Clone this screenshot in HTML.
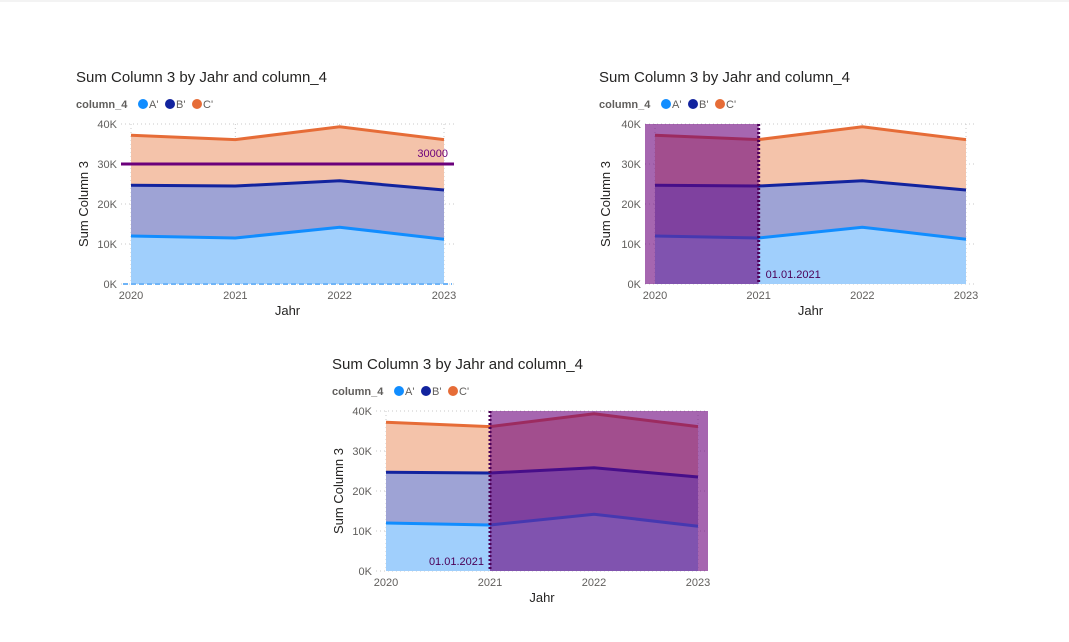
<!DOCTYPE html>
<html><head><meta charset="utf-8"><style>
html,body{margin:0;padding:0;background:#fff;}
svg{display:block;font-family:"Segoe UI","Liberation Sans","DejaVu Sans",sans-serif;}
</style></head><body>
<svg id="root" width="1069" height="642" viewBox="0 0 1069 642" xmlns="http://www.w3.org/2000/svg">
<rect x="0" y="0" width="1069" height="2" fill="#f3f3f3"/>
</svg>
<script>
const years = ["2020","2021","2022","2023"];
const seriesA = [12000, 11500, 14200, 11200];
const seriesB = [12700, 13000, 11600, 12300];
const seriesC = [12500, 11600, 13500, 12600];
const yTicks = [0, 10000, 20000, 30000, 40000];
const yTickLabels = ["0K","10K","20K","30K","40K"];
const refValue = 30000;
const refLabel = "30000";
const dateMarker = "01.01.2021";

const NS = "http://www.w3.org/2000/svg";
const root = document.getElementById('root');
function mk(tag, attrs, parent, text){
  const e = document.createElementNS(NS, tag);
  for (const k in attrs) e.setAttribute(k, attrs[k]);
  if (text !== undefined) e.textContent = text;
  (parent || root).appendChild(e);
  return e;
}
const colors = {A:{fill:"#a0cffc",line:"#118dff"},B:{fill:"#9ea3d5",line:"#12239e"},C:{fill:"#f4c3aa",line:"#e66c37"}};

function drawChart(cfg){
  const g = mk('g', {});
  
  
  const xs = i => cfg.x0 + (cfg.x1 - cfg.x0) * i / (years.length - 1);
  const ys = v => cfg.yb - (cfg.yb - cfg.yt) * v / 40000;
  const t = mk('text', {x:cfg.tx, y:cfg.ty, 'font-size':15, fill:'#252423'}, g, 'Sum Column 3 by Jahr and column_4');
  
  
  // legend
  const lg = mk('g', {}, g);
  
  
  mk('text', {x:cfg.tx, y:cfg.ty+26, 'font-size':11, 'font-weight':'bold', fill:'#605e5c'}, lg, 'column_4');
  const lx = cfg.tx + 62;
  [["A","A'"],["B","B'"],["C","C'"]].forEach((s, i) => {
    const ex = lx + i * 27;
    const e = mk('g', {}, lg);
    
    
    mk('circle', {cx:ex+5, cy:cfg.ty+22, r:5, fill:colors[s[0]].line}, e);
    mk('text', {x:ex+11, y:cfg.ty+26, 'font-size':11, fill:'#605e5c'}, e, s[1]);
  });
  // gridlines & y ticks
  yTicks.forEach((v, i) => {
    const y = ys(v);
    mk('line', {x1:cfg.gx, x2:cfg.x1+10, y1:y, y2:y, stroke:'#c8c8c8', 'stroke-dasharray':'1 3'}, g);
    const lab = mk('text', {x:cfg.x0-14, y:y+4, 'font-size':11, fill:'#605e5c', 'text-anchor':'end'}, g, yTickLabels[i]);
    
    
  });
  years.forEach((yr, i) => {
    mk('line', {x1:xs(i), x2:xs(i), y1:cfg.yt, y2:cfg.yb, stroke:'#c8c8c8', 'stroke-dasharray':'1 3'}, g);
    const lab = mk('text', {x:xs(i), y:cfg.yb+15, 'font-size':11, fill:'#605e5c', 'text-anchor':'middle'}, g, yr);
    
    
  });
  const xt = mk('text', {x:(cfg.x0+cfg.x1)/2, y:cfg.yb+31, 'font-size':13, fill:'#252423', 'text-anchor':'middle'}, g, 'Jahr');
  
  
  const yc = (cfg.yt+cfg.yb)/2;
  const yt = mk('text', {x:cfg.ytx, y:yc, 'font-size':13, fill:'#252423', 'text-anchor':'middle', transform:`rotate(-90 ${cfg.ytx} ${yc})`}, g, 'Sum Column 3');
  
  
  // stacked areas
  const cumA = seriesA.slice();
  const cumB = seriesA.map((v, i) => v + seriesB[i]);
  const cumC = cumB.map((v, i) => v + seriesC[i]);
  const layers = [["A", years.map(()=>0), cumA], ["B", cumA, cumB], ["C", cumB, cumC]];
  layers.forEach(([k, lo, hi]) => {
    let d = hi.map((v, i) => (i ? 'L' : 'M') + xs(i) + ',' + ys(v)).join(' ');
    for (let i = lo.length - 1; i >= 0; i--) d += ' L' + xs(i) + ',' + ys(lo[i]);
    const a = mk('path', {d: d + 'Z', fill: colors[k].fill}, g);
    
    
  });
  layers.forEach(([k, lo, hi]) => {
    const p = mk('polyline', {points: hi.map((v, i) => xs(i) + ',' + ys(v)).join(' '), fill:'none', stroke:colors[k].line, 'stroke-width':3}, g);
    
    
  });
  if (cfg.baseDash) {
    mk('line', {x1:cfg.x0-8, x2:cfg.x1+8, y1:cfg.yb, y2:cfg.yb, stroke:'#6fb4f7', 'stroke-width':2, 'stroke-dasharray':'5 3'}, g);
  }
  if (cfg.ref) {
    const rl = mk('line', {x1:cfg.x0-10, x2:cfg.x1+10, y1:ys(refValue), y2:ys(refValue), stroke:'#6b007b', 'stroke-width':3}, g);
    
    
    mk('text', {x:cfg.x1+4, y:ys(refValue)-7, 'font-size':11, fill:'#6b007b', 'text-anchor':'end'}, g, refLabel);
  }
  if (cfg.band) {
    const mx = xs(1);
    const bx0 = cfg.band === 'left' ? cfg.gx : mx;
    const bx1 = cfg.band === 'left' ? mx : cfg.x1 + 10;
    const b = mk('rect', {x:bx0, y:cfg.yt, width:bx1-bx0, height:cfg.yb-cfg.yt, fill:'#6b007b', 'fill-opacity':0.6}, g);
    
    
    const ml = mk('line', {x1:mx, x2:mx, y1:cfg.yt, y2:cfg.yb, stroke:'#4b0057', 'stroke-width':3, 'stroke-dasharray':'2 2'}, g);
    
    
    const tx = cfg.band === 'left' ? mx + 7 : mx - 6;
    mk('text', {x:tx, y:cfg.yb-6, 'font-size':11, fill:'#4b0057', 'text-anchor': cfg.band === 'left' ? 'start' : 'end'}, g, dateMarker);
  }
}
drawChart({name:'chart-top-left', x0:131, x1:444, yt:124, yb:284, gx:121, tx:76, ty:82, ytx:88, ref:true, baseDash:true});
drawChart({name:'chart-top-right', x0:655, x1:966, yt:124, yb:284, gx:645, tx:599, ty:82, ytx:610, band:'left'});
drawChart({name:'chart-bottom', x0:386, x1:698, yt:411, yb:571, gx:376, tx:332, ty:369, ytx:343, band:'right'});
</script>
</body></html>
